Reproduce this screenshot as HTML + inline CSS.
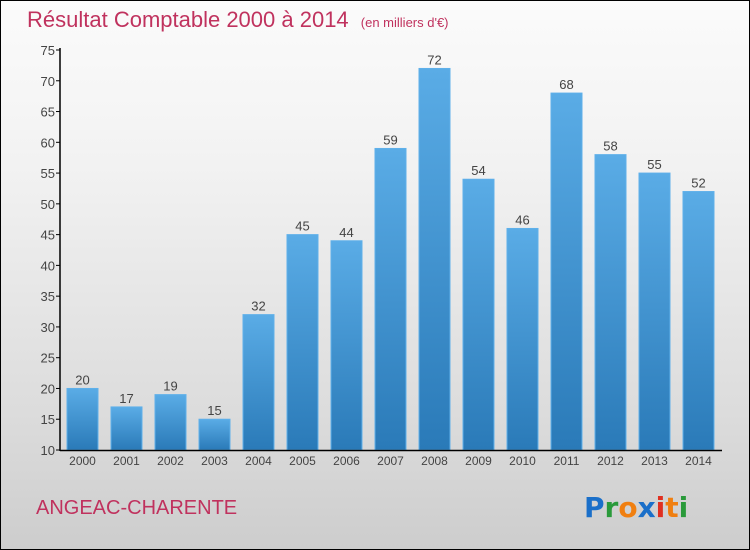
<!DOCTYPE html>
<html><head><meta charset="utf-8"><style>
html,body{margin:0;padding:0}
body{width:750px;height:550px;overflow:hidden;font-family:"Liberation Sans",sans-serif}
#wrap{position:absolute;left:0;top:0;width:748px;height:548px;border:1px solid #000;background:linear-gradient(#fbfbfb,#f2f2f2 30%,#dcdcdc 75%,#cdcdcd)}
</style></head><body>
<div id="wrap">
<svg id="svg" width="750" height="550" style="position:absolute;left:-1px;top:-1px">
<defs><linearGradient id="bg" x1="0" y1="0" x2="0" y2="1"><stop offset="0" stop-color="#5aace6"/><stop offset="1" stop-color="#2a7ab8"/></linearGradient></defs>
<text x="27" y="27" font-size="22" fill="#c0325e">Résultat Comptable 2000 à 2014 <tspan font-size="13" dx="6">(en milliers d'€)</tspan></text>
<text x="36" y="514" font-size="20" fill="#c0325e">ANGEAC-CHARENTE</text>
<text x="584" y="517" font-size="28" font-weight="bold" font-family="'DejaVu Sans',sans-serif"><tspan fill="#1a6fc9">P</tspan><tspan fill="#2a9a3a">r</tspan><tspan fill="#f07f10">o</tspan><tspan fill="#1a6fc9">x</tspan><tspan fill="#e03020">i</tspan><tspan fill="#f07f10">t</tspan><tspan fill="#2a9a3a">i</tspan></text>
<g id="plot"></g>
</svg></div>
<script>
const years=["2000","2001","2002","2003","2004","2005","2006","2007","2008","2009","2010","2011","2012","2013","2014"];
const values=[20,17,19,15,32,45,44,59,72,54,46,68,58,55,52];
const yTicks=[10,15,20,25,30,35,40,45,50,55,60,65,70,75];
const yMin=10,yMax=75;
const NS="http://www.w3.org/2000/svg";
const g=document.getElementById('plot');
function y(v){return 450-(v-yMin)*400/(yMax-yMin);}
function xc(i){return 82.5+i*44;}
function mk(t,a){const e=document.createElementNS(NS,t);for(const k in a)e.setAttribute(k,a[k]);g.appendChild(e);return e;}
yTicks.forEach(t=>{
 const l=mk('line',{x1:56,x2:60,y1:y(t),y2:y(t),stroke:'#000'});
 
 
 const tx=mk('text',{x:55,y:y(t)+5,'text-anchor':'end','font-size':13,fill:'#444'});
 tx.textContent=t;
 
 
});
values.forEach((v,i)=>{
 const r=mk('rect',{x:xc(i)-15.5,y:y(v),width:31,height:450-y(v),fill:'url(#bg)',stroke:'#5fb0ea','stroke-width':1});
 
 
 const vt=mk('text',{x:xc(i),y:y(v)-4,'text-anchor':'middle','font-size':13,fill:'#444'});
 vt.textContent=v;
 
 
 const xt=mk('text',{x:xc(i),y:465,'text-anchor':'middle','font-size':12,fill:'#444'});
 xt.textContent=years[i];
 
 
});
const ya=mk('line',{x1:60,x2:60,y1:48,y2:451,stroke:'#000','stroke-width':1.5});


const xa=mk('line',{x1:60,x2:722,y1:450.5,y2:450.5,stroke:'#000','stroke-width':1.5});


</script>
</body></html>
